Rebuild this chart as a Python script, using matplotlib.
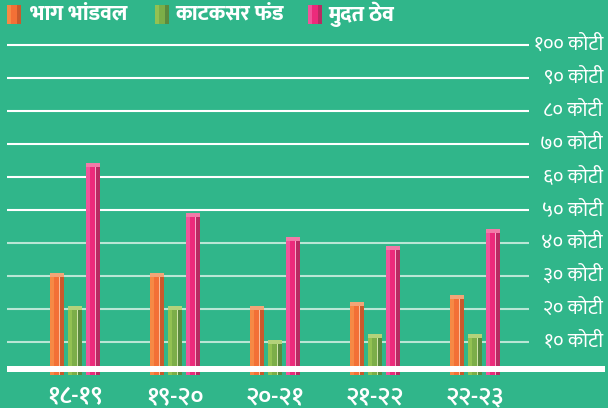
import matplotlib
matplotlib.use("Agg")
import matplotlib.pyplot as plt
import matplotlib.patches as mpatches
import numpy as np

# ---- data ----
years = ["१८-१९", "१९-२०", "२०-२१", "२१-२२", "२२-२३"]
share_capital = [31.0, 31.0, 21.0, 22.0, 24.2]      # भाग भांडवल
reserve_fund = [21.0, 21.0, 10.7, 12.4, 12.4]       # काटकसर फंड
fixed_deposit = [64.3, 49.1, 41.7, 39.2, 44.2]      # मुदत ठेव
series_names = ["भाग भांडवल", "काटकसर फंड", "मुदत ठेव"]
tick_values = [10, 20, 30, 40, 50, 60, 70, 80, 90, 100]
tick_labels = ["१० कोटी", "२० कोटी", "३० कोटी", "४० कोटी", "५० कोटी",
               "६० कोटी", "७० कोटी", "८० कोटी", "९० कोटी", "१०० कोटी"]

BG = "#30b68a"
FONT = ["Mukta", "Hind", "Noto Sans Devanagari", "DejaVu Sans"]

# colours: (main, left light, right dark, cap, highlight)
styles = [
    ("#f37036", "#f68a45", "#c95a2c", "#f2a577", "#fbc7a8"),
    ("#7cae48", "#93c152", "#5b8a3e", "#b3d27a", "#d8ebb4"),
    ("#ec2a7b", "#f0549a", "#b82a62", "#f27aa8", "#f9b6d0"),
]
offsets = [-0.18, 0.0, 0.18]
W = 0.14

fig = plt.figure(figsize=(6.08, 4.08), dpi=100, facecolor=BG)
ax = fig.add_axes([0, 0, 1, 1])
ax.set_facecolor(BG)
ax.set_xlim(-0.75, 5.33)
ax.set_ylim(-10, 113.64)
ax.axis("off")

# grid lines
for v in tick_values:
    col = "white" if v >= 50 else "#b9e6d5"
    ax.plot([-0.68, 4.54], [v, v], color=col, lw=1.5, zorder=1, solid_capstyle="butt")

# tick labels on the right
for v, lab in zip(tick_values, tick_labels):
    ax.text(5.28, v, lab, ha="right", va="center", color="white",
            fontsize=14.5, family=FONT, zorder=5)

x = np.arange(len(years))
for vals, off, st in zip([share_capital, reserve_fund, fixed_deposit], offsets, styles):
    main, light, dark, cap, hl = st
    xs = x + off
    vals = np.asarray(vals)
    ax.bar(xs, vals, width=W, color=main, zorder=3)
    ax.bar(xs - W / 2 + 0.02, vals, width=0.04, color=light, zorder=3.1)
    ax.bar(xs + W / 2 - 0.02, vals, width=0.04, color=dark, zorder=3.1)
    ax.bar(xs + 0.025, vals, width=0.012, color=hl, zorder=3.2, alpha=0.9)
    ax.bar(xs, np.full_like(vals, 1.2), bottom=vals - 1.2, width=W, color=cap, zorder=3.3)

# baseline band
ax.axhspan(0.91, 2.73, xmin=7 / 608, xmax=605 / 608, color="white", zorder=4, lw=0)

# x labels
for xi, lab in zip(x, years):
    ax.text(xi, -6.8, lab, ha="center", va="center", color="white",
            fontsize=18, fontweight="semibold", family=FONT, zorder=5)

# legend
icon_x = [7, 155, 308]
text_x = [30, 175, 328]
for name, st, ix, tx in zip(series_names, styles, icon_x, text_x):
    main, light, dark, cap, hl = st
    fx, fy = ix / 608, (408 - 24) / 408
    fw, fh = 14 / 608, 19 / 408
    fig.patches.append(mpatches.Rectangle((fx, fy), fw, fh, transform=fig.transFigure,
                                          facecolor=main, edgecolor="none"))
    fig.patches.append(mpatches.Rectangle((fx, fy), 4 / 608, fh, transform=fig.transFigure,
                                          facecolor=light, edgecolor="none"))
    fig.patches.append(mpatches.Rectangle((fx + 10 / 608, fy), 4 / 608, fh, transform=fig.transFigure,
                                          facecolor=dark, edgecolor="none"))
    fig.text(tx / 608, (408 - 14) / 408, name, ha="left", va="center", color="white",
             fontsize=15.5, fontweight=800, family=FONT)

fig.savefig("out.png", dpi=100, facecolor=BG)
